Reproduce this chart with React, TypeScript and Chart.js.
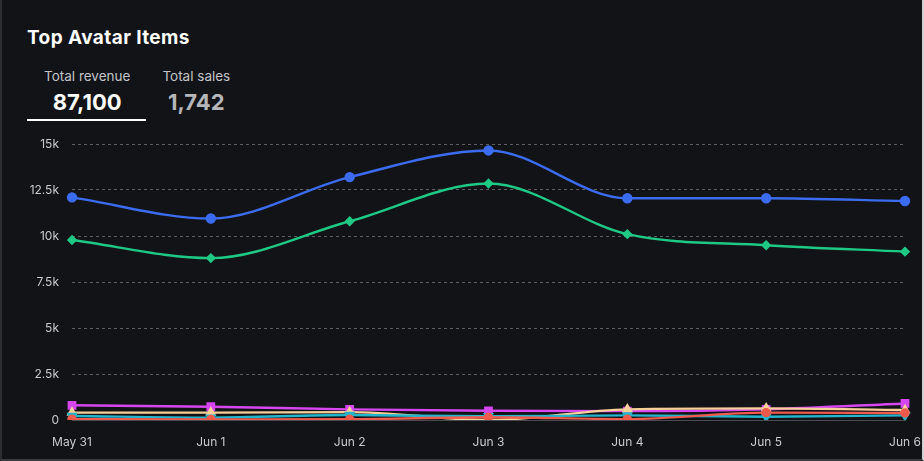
import React, { useEffect, useRef } from "react";
import { Chart, registerables } from "chart.js";

Chart.register(...registerables);

const categories = ["May 31", "Jun 1", "Jun 2", "Jun 3", "Jun 4", "Jun 5", "Jun 6"];
const yTicks = [0, 2500, 5000, 7500, 10000, 12500, 15000];
const tickLabels = ["0", "2.5k", "5k", "7.5k", "10k", "12.5k", "15k"];

const seriesBlue = [12100, 10950, 13200, 14650, 12050, 12050, 11900];
const seriesGreen = [9780, 8800, 10800, 12850, 10100, 9500, 9150];
const seriesMagenta = [800, 720, 580, 500, 480, 580, 900];
const seriesPeach = [400, 400, 430, 0, 580, 630, 540];
const seriesCyan = [220, 130, 270, 200, 250, 180, 250];
const seriesRed = [50, 30, 40, 150, 50, 400, 380];

const totalRevenue = "87,100";
const totalSales = "1,742";

function ds(label: string, data: number[], color: string, style: string, radius = 4, rotation = 0) {
  return {
    label,
    data,
    borderColor: color,
    backgroundColor: color,
    pointBackgroundColor: color,
    pointBorderColor: color,
    pointStyle: style,
    pointRotation: rotation,
    pointRadius: radius,
    borderWidth: 2.4,
    cubicInterpolationMode: "monotone" as const,
  };
}

export default function App() {
  const ref = useRef<HTMLCanvasElement | null>(null);

  useEffect(() => {
    document.body.style.margin = "0";
    document.body.style.background = "#121317";
    if (!ref.current) return;
    const chart = new Chart(ref.current, {
      type: "line",
      data: {
        labels: categories,
        datasets: [
          ds("Red", seriesRed, "#ef5a4c", "circle", 3.5),
          ds("Cyan", seriesCyan, "#23b5cc", "triangle", 4, 180),
          ds("Peach", seriesPeach, "#f7cf98", "triangle", 4),
          ds("Magenta", seriesMagenta, "#d647f0", "rect", 4.5),
          ds("Green", seriesGreen, "#1ec985", "rectRot", 3.5),
          ds("Blue", seriesBlue, "#3b6cf0", "circle", 4),
        ],
      },
      options: {
        animation: false,
        responsive: true,
        maintainAspectRatio: false,
        layout: { padding: { top: 14, right: 19, bottom: 0, left: 0 } },
        plugins: { legend: { display: false }, tooltip: { enabled: false } },
        scales: {
          x: {
            offset: false,
            grid: {
              display: false,
              drawTicks: true,
              tickLength: 15,
              tickColor: "transparent",
            },
            border: { display: true, color: "#4a4b50", width: 1 },
            ticks: {
              color: "#c9cacd",
              font: { family: "Inter", size: 12 },
              padding: 0,
              maxRotation: 0,
              autoSkip: false,
            },
            afterFit: (s: any) => {
              s.height = 41;
            },
          },
          y: {
            min: 0,
            max: 15000,
            afterBuildTicks: (s: any) => {
              s.ticks = yTicks.map((v) => ({ value: v }));
            },
            grid: {
              color: "rgba(255,255,255,0.32)",
              drawTicks: true,
              tickLength: 13,
              tickColor: "transparent",
              lineWidth: (c: any) => (c.tick && c.tick.value === 0 ? 0 : 1),
            },
            border: { display: false, dash: [3, 3] },
            ticks: {
              color: "#c9cacd",
              font: { family: "Inter", size: 12 },
              padding: 0,
              callback: (v: any) => {
                const i = yTicks.indexOf(Number(v));
                return i >= 0 ? tickLabels[i] : "";
              },
            },
            afterFit: (s: any) => {
              s.width = 72;
            },
          },
        },
      },
    });
    return () => chart.destroy();
  }, []);

  return (
    <div
      style={{
        position: "relative",
        width: 924,
        height: 461,
        boxSizing: "border-box",
        background: "#121317",
        borderLeft: "2px solid #2c2d31",
        borderRight: "2px solid #d0d0d0",
        borderBottom: "2px solid #3a3b3f",
        fontFamily: "Inter, 'Noto Sans', sans-serif",
        overflow: "hidden",
      }}
    >
      <div
        style={{
          position: "absolute",
          left: 25,
          top: 26,
          color: "#ffffff",
          fontSize: 19,
          fontWeight: 700,
          letterSpacing: 0.4,
        }}
      >
        Top Avatar Items
      </div>
      <div style={{ position: "absolute", left: 25, top: 67, display: "flex" }}>
        <div
          style={{
            padding: "0 16px 0 17px",
            borderBottom: "2px solid #ffffff",
            height: 52,
            textAlign: "center",
            boxSizing: "content-box",
          }}
        >
          <div style={{ color: "#c3c4c7", fontSize: 13.5, lineHeight: "18px" }}>Total revenue</div>
          <div style={{ color: "#ffffff", fontSize: 22, fontWeight: 700, lineHeight: "34px" }}>
            {totalRevenue}
          </div>
        </div>
        <div style={{ padding: "0 16px", height: 52, textAlign: "center" }}>
          <div style={{ color: "#c3c4c7", fontSize: 13.5, lineHeight: "18px" }}>Total sales</div>
          <div style={{ color: "#b5b6b9", fontSize: 22, fontWeight: 700, lineHeight: "34px" }}>
            {totalSales}
          </div>
        </div>
      </div>
      <div style={{ position: "absolute", left: -2, top: 130, width: 924, height: 331 }}>
        <canvas ref={ref} />
      </div>
    </div>
  );
}
